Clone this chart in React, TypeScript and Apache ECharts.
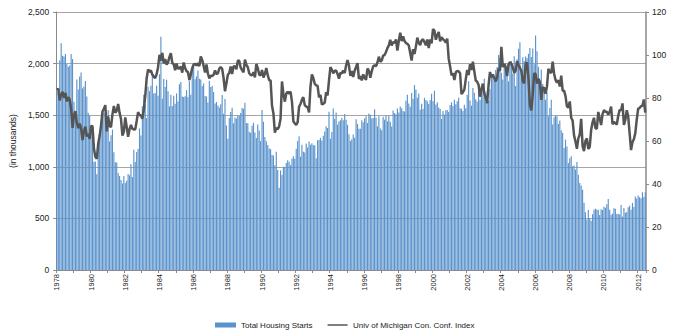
import React, { useEffect, useRef } from "react";
import * as echarts from "echarts";

const startYear = 1978;

// Total housing starts, thousands (SAAR), monthly Jan 1978 - Jun 2012
const housingStarts: number[] = [
  1718, 1738, 2032, 2197, 2075, 2070, 2092, 1996, 1970, 1981, 2094, 2044, // 1978
  1630, 1520, 1847, 1748, 1876, 1913, 1760, 1778, 1832, 1681, 1524, 1498, // 1979
  1341, 1350, 1047, 1051, 927, 1196, 1269, 1436, 1471, 1523, 1510, 1482, // 1980
  1547, 1246, 1306, 1360, 1140, 1045, 1041, 940, 911, 873, 837, 910, // 1981
  843, 866, 931, 917, 1025, 902, 1166, 1046, 1144, 1173, 1372, 1303, // 1982
  1586, 1699, 1606, 1472, 1776, 1733, 1785, 1910, 1710, 1715, 1785, 1688, // 1983
  1897, 2260, 1663, 1851, 1774, 1843, 1732, 1586, 1698, 1590, 1689, 1612, // 1984
  1711, 1632, 1800, 1821, 1680, 1676, 1684, 1743, 1676, 1834, 1698, 1942, // 1985
  1972, 1848, 1876, 1933, 1854, 1847, 1782, 1807, 1687, 1681, 1623, 1833, // 1986
  1774, 1784, 1726, 1614, 1628, 1594, 1575, 1605, 1695, 1515, 1656, 1400, // 1987
  1271, 1473, 1532, 1573, 1421, 1478, 1467, 1493, 1492, 1522, 1569, 1563, // 1988
  1621, 1425, 1422, 1339, 1331, 1397, 1427, 1332, 1279, 1410, 1351, 1251, // 1989
  1551, 1437, 1289, 1248, 1212, 1177, 1171, 1115, 1110, 1014, 1145, 969, // 1990
  798, 965, 921, 1001, 996, 1036, 1063, 1049, 1015, 1079, 1103, 1079, // 1991
  1176, 1250, 1297, 1099, 1214, 1145, 1139, 1226, 1186, 1244, 1214, 1227, // 1992
  1210, 1210, 1083, 1258, 1260, 1280, 1254, 1300, 1343, 1392, 1376, 1533, // 1993
  1272, 1337, 1564, 1465, 1526, 1409, 1439, 1450, 1474, 1450, 1511, 1455, // 1994
  1407, 1316, 1249, 1267, 1314, 1281, 1461, 1416, 1369, 1369, 1452, 1431, // 1995
  1467, 1491, 1424, 1516, 1504, 1467, 1472, 1557, 1475, 1392, 1489, 1370, // 1996
  1355, 1486, 1457, 1492, 1442, 1494, 1437, 1390, 1546, 1520, 1510, 1566, // 1997
  1525, 1584, 1567, 1540, 1536, 1641, 1698, 1614, 1582, 1715, 1660, 1792, // 1998
  1748, 1670, 1710, 1553, 1611, 1559, 1669, 1648, 1635, 1608, 1648, 1708, // 1999
  1636, 1737, 1604, 1626, 1575, 1559, 1463, 1541, 1507, 1549, 1551, 1532, // 2000
  1600, 1625, 1590, 1649, 1605, 1636, 1670, 1567, 1562, 1540, 1602, 1568, // 2001
  1698, 1829, 1642, 1592, 1764, 1717, 1655, 1633, 1804, 1648, 1753, 1788, // 2002
  1853, 1629, 1726, 1643, 1751, 1867, 1897, 1833, 1939, 1967, 2083, 2057, // 2003
  1911, 1846, 1998, 2003, 1981, 1828, 2002, 2024, 1905, 2072, 1782, 2042, // 2004
  2144, 2207, 1864, 2061, 2025, 2068, 2054, 2095, 2151, 2065, 2147, 1994, // 2005
  2273, 2119, 1969, 1821, 1942, 1802, 1737, 1650, 1720, 1491, 1570, 1649, // 2006
  1409, 1480, 1495, 1490, 1415, 1448, 1354, 1330, 1183, 1264, 1197, 1037, // 2007
  1084, 1103, 1005, 1013, 973, 1046, 923, 844, 820, 777, 652, 560, // 2008
  490, 582, 505, 478, 540, 585, 594, 586, 585, 534, 588, 581, // 2009
  614, 604, 636, 687, 583, 536, 546, 599, 594, 543, 545, 539, // 2010
  630, 517, 600, 554, 561, 608, 623, 585, 650, 610, 711, 694, // 2011
  723, 704, 695, 753, 708, 754, // 2012
];

// Univ of Michigan consumer confidence index, monthly Jan 1978 - Jun 2012
const consumerConfidence: number[] = [
  83.7, 84.3, 78.8, 81.6, 82.9, 80.0, 82.4, 78.4, 80.4, 79.3, 75.0, 66.1, // 1978
  72.1, 73.9, 68.4, 66.0, 68.1, 65.8, 60.4, 64.5, 66.7, 62.1, 63.3, 61.0, // 1979
  67.0, 66.9, 56.5, 52.7, 51.7, 58.7, 62.3, 67.3, 73.7, 75.0, 76.7, 64.5, // 1980
  71.4, 66.9, 66.5, 72.4, 76.3, 73.1, 74.1, 77.2, 73.1, 70.3, 62.5, 64.3, // 1981
  71.0, 66.5, 62.0, 65.5, 67.5, 65.7, 65.4, 65.4, 69.3, 73.4, 72.1, 71.9, // 1982
  70.4, 74.6, 80.8, 89.1, 93.3, 92.2, 92.8, 90.9, 89.9, 89.3, 91.1, 94.2, // 1983
  100.1, 97.4, 101.0, 96.1, 98.1, 95.5, 96.6, 99.1, 100.9, 96.3, 95.7, 92.9, // 1984
  96.0, 93.7, 93.7, 94.6, 91.8, 96.5, 94.0, 92.4, 92.1, 88.4, 90.9, 93.9, // 1985
  95.6, 95.9, 95.1, 96.2, 94.8, 99.3, 97.7, 94.9, 91.9, 95.6, 91.4, 89.1, // 1986
  90.4, 90.2, 90.8, 92.8, 91.1, 91.5, 93.7, 94.4, 93.6, 89.3, 83.1, 86.8, // 1987
  90.8, 91.6, 94.6, 91.2, 94.8, 94.7, 93.4, 97.4, 97.3, 94.1, 93.0, 91.9, // 1988
  97.9, 95.4, 94.3, 91.5, 90.7, 90.6, 92.0, 89.6, 95.8, 93.9, 90.9, 90.5, // 1989
  93.0, 89.5, 91.3, 93.9, 90.6, 88.3, 88.2, 76.4, 72.8, 63.9, 66.0, 65.5, // 1990
  66.8, 70.4, 87.7, 81.8, 78.3, 82.1, 82.9, 82.0, 83.0, 78.3, 69.1, 68.2, // 1991
  67.5, 68.8, 76.0, 77.2, 79.2, 80.4, 76.6, 76.1, 75.6, 73.3, 85.3, 91.0, // 1992
  89.3, 86.6, 85.9, 85.6, 80.3, 81.5, 77.0, 77.3, 77.9, 82.7, 81.2, 88.2, // 1993
  94.3, 93.2, 91.5, 92.6, 92.8, 91.2, 89.0, 91.7, 91.5, 92.7, 91.6, 95.1, // 1994
  97.6, 95.1, 90.3, 92.5, 89.8, 92.7, 94.4, 96.2, 88.9, 90.2, 88.2, 91.0, // 1995
  89.3, 88.5, 93.7, 92.7, 89.4, 92.4, 94.7, 95.3, 94.7, 96.5, 99.2, 96.9, // 1996
  97.4, 99.7, 100.0, 101.4, 103.2, 104.5, 107.1, 104.4, 106.0, 105.6, 107.2, 102.1, // 1997
  106.6, 110.4, 106.5, 108.7, 106.5, 105.6, 105.2, 104.4, 100.9, 97.4, 102.7, 100.5, // 1998
  103.9, 108.1, 105.7, 104.6, 106.8, 107.3, 106.0, 104.5, 107.2, 103.2, 107.2, 105.4, // 1999
  112.0, 111.3, 107.1, 109.2, 110.7, 106.4, 108.3, 107.3, 106.8, 105.8, 107.6, 98.4, // 2000
  94.7, 90.6, 91.5, 88.4, 92.0, 92.6, 92.4, 91.5, 81.8, 82.7, 83.9, 88.8, // 2001
  93.0, 90.7, 95.7, 93.0, 96.9, 92.4, 88.1, 87.6, 86.1, 80.6, 84.2, 86.7, // 2002
  82.4, 79.9, 77.6, 86.0, 92.1, 89.7, 90.9, 89.3, 87.7, 89.6, 93.7, 92.6, // 2003
  103.8, 94.4, 95.8, 94.2, 90.2, 95.6, 96.7, 95.9, 94.2, 91.7, 92.8, 97.1, // 2004
  95.5, 94.1, 92.6, 87.7, 86.9, 96.0, 96.5, 89.1, 76.9, 74.2, 81.6, 91.5, // 2005
  91.2, 86.7, 88.9, 87.4, 79.1, 84.9, 84.7, 82.0, 85.4, 93.6, 92.1, 91.7, // 2006
  96.9, 91.3, 88.4, 87.1, 88.3, 85.3, 90.4, 83.4, 83.4, 80.9, 76.1, 75.5, // 2007
  78.4, 70.8, 69.5, 62.6, 59.8, 56.4, 61.2, 63.0, 70.3, 57.6, 55.3, 60.1, // 2008
  61.2, 56.3, 57.3, 65.1, 68.7, 70.8, 66.0, 65.7, 73.5, 70.6, 67.4, 72.5, // 2009
  74.4, 73.6, 73.6, 72.2, 73.6, 76.0, 67.8, 68.9, 68.2, 67.7, 71.6, 74.5, // 2010
  74.2, 77.5, 67.5, 69.8, 74.3, 71.5, 63.7, 55.8, 59.5, 60.8, 63.7, 69.9, // 2011
  75.0, 75.3, 76.2, 76.4, 79.3, 73.2, // 2012
];

const months: string[] = housingStarts.map((_, i) => {
  const y = startYear + Math.floor(i / 12);
  const m = (i % 12) + 1;
  return `${y}-${m < 10 ? "0" + m : m}`;
});

const seriesNames = ["Total Housing Starts", "Univ of Michigan Con. Conf. Index"];

// thin horizontal line icon: invisible zero-area points set the bounding box
const lineIcon = "path://M0,0L0.01,0L0,0Z M0,3.5H40V6.5H0Z M0,10L0.01,10L0,10Z";

export default function App() {
  const ref = useRef<HTMLDivElement>(null);
  useEffect(() => {
    if (!ref.current) return;
    const chart = echarts.init(ref.current, undefined, { renderer: "svg" });
    const font = "Liberation Sans, Arial, sans-serif";
    chart.setOption({
      animation: false,
      backgroundColor: "#ffffff",
      textStyle: { fontFamily: font },
      grid: { left: 49, right: 37, top: 12, bottom: 62, containLabel: false },
      legend: {
        left: 210,
        top: 316,
        itemGap: 15,
        itemWidth: 21,
        itemHeight: 5,
        textStyle: { fontSize: 8, color: "#222", fontFamily: font },
        data: [
          { name: seriesNames[0], icon: "rect" },
          { name: seriesNames[1], icon: lineIcon },
        ],
      },
      xAxis: {
        type: "category",
        data: months,
        boundaryGap: true,
        axisLine: { lineStyle: { color: "#8a8a8a", width: 1 } },
        axisTick: { show: true, interval: 11, length: 3, lineStyle: { color: "#8a8a8a" } },
        axisLabel: {
          interval: 23,
          rotate: 90,
          fontSize: 7.5,
          color: "#222",
          margin: 4,
          formatter: (v: string) => v.slice(0, 4),
        },
        splitLine: { show: false },
      },
      yAxis: [
        {
          type: "value",
          min: 0,
          max: 2500,
          interval: 500,
          name: "(in thousands)",
          nameLocation: "middle",
          nameGap: 33,
          nameTextStyle: { fontSize: 8.5, color: "#222", fontFamily: font },
          axisLine: { show: true, lineStyle: { color: "#8a8a8a" } },
          axisTick: { show: true, length: 3, lineStyle: { color: "#8a8a8a" } },
          axisLabel: {
            fontSize: 8.5,
            color: "#222",
            margin: 7,
            formatter: (v: number) => v.toLocaleString("en-US"),
          },
          splitLine: { show: true, lineStyle: { color: "#a6a6a6", width: 1 } },
        },
        {
          type: "value",
          min: 0,
          max: 120,
          interval: 20,
          position: "right",
          axisLine: { show: true, lineStyle: { color: "#8a8a8a", width: 1.5 } },
          axisTick: { show: true, length: 3, lineStyle: { color: "#8a8a8a" } },
          axisLabel: { fontSize: 8.5, color: "#222", margin: 6 },
          splitLine: { show: false },
        },
      ],
      series: [
        {
          name: seriesNames[0],
          type: "bar",
          data: housingStarts,
          barCategoryGap: "20%",
          itemStyle: { color: "#5b93cc" },
          yAxisIndex: 0,
        },
        {
          name: seriesNames[1],
          type: "line",
          data: consumerConfidence,
          yAxisIndex: 1,
          symbol: "none",
          lineStyle: { color: "#555555", width: 2.5 },
          itemStyle: { color: "#555555" },
        },
      ],
    });
    return () => chart.dispose();
  }, []);
  return (
    <div
      ref={ref}
      style={{ position: "absolute", left: 0, top: 0, width: 683, height: 332 }}
    />
  );
}
